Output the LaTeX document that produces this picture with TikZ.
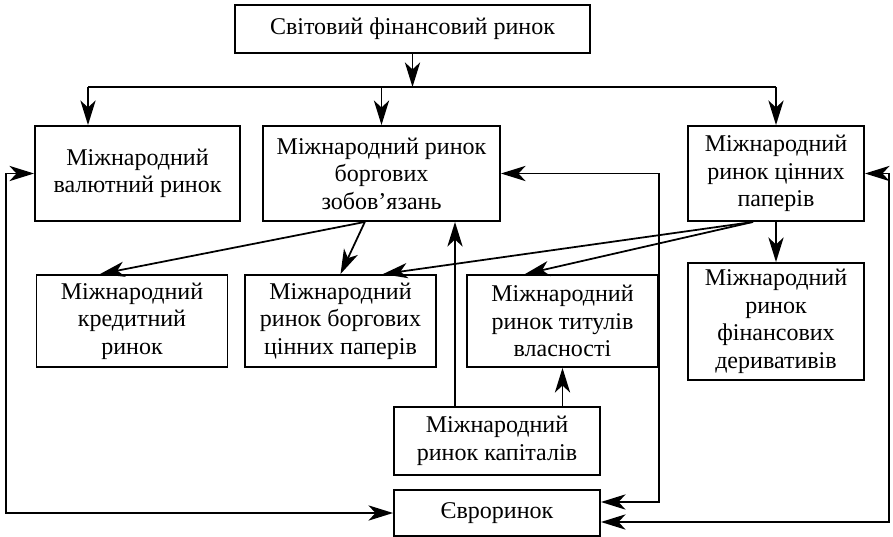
\documentclass[tikz,border=0pt]{standalone}
\usepackage{fontspec}
\setmainfont{Liberation Serif}
\usepackage{tikz}
\usetikzlibrary{positioning}
\usetikzlibrary{arrows.meta}
\usetikzlibrary{calc}

\tikzset{
  market/.style={draw, line width=1.6pt, align=center, inner sep=0pt, font=\fontsize{20.5}{23.5}\selectfont},
  link/.style={line width=1.5pt},
  tip/.style={link, -{Stealth[length=21pt,width=13pt,inset=6pt]}},
  twotip/.style={link, {Stealth[length=21pt,width=13pt,inset=6pt]}-{Stealth[length=21pt,width=13pt,inset=6pt]}}
}

\begin{document}
\begin{tikzpicture}[x=0.03cm,y=-0.03cm]
 \useasboundingbox (0,0) rectangle (893,537);

 %level 1
 \node[market, minimum width=10.65cm, minimum height=1.44cm] (world) at (412.5,29) {Світовий фінансовий ринок};

 %level 2
 \node[market, minimum width=6.15cm, minimum height=2.85cm] (fx) at (137.5,173.5) {Міжнародний\\валютний ринок};
 \node[market, minimum width=7.11cm, minimum height=2.85cm] (debt) at (381.5,173.5) {Міжнародний ринок\\боргових\\зобов’язань};
 \node[market, minimum width=5.28cm, minimum height=2.85cm] (sec) at (776,173.5) {Міжнародний\\ринок цінних\\паперів};

 %level 3
 \node[market, minimum width=5.73cm, minimum height=2.76cm] (credit) at (132,321) {Міжнародний\\кредитний\\ринок};
 \node[market, minimum width=5.73cm, minimum height=2.76cm] (bonds) at (340.5,321) {Міжнародний\\ринок боргових\\цінних паперів};
 \node[market, minimum width=5.73cm, minimum height=2.76cm] (equity) at (562.5,321) {Міжнародний\\ринок титулів\\власності};
 \node[market, minimum width=5.28cm, minimum height=3.51cm] (deriv) at (776,321.5) {Міжнародний\\ринок\\фінансових\\деривативів};

 %level 4
 \node[market, minimum width=6.18cm, minimum height=2.04cm] (capital) at (497,441) {Міжнародний\\ринок капіталів};
 \node[market, minimum width=6.18cm, minimum height=1.38cm] (euro) at (497,513) {Євроринок};

 % lines
 \coordinate (bus) at (412.5,87);
 \coordinate (busL) at (88,87);
 \coordinate (busR) at (776,87);
 \draw[tip] (world) -- (bus);
 \draw[link] (busL) -- (busR);
 \draw[tip] (busL) -- (busL |- fx.north);
 \draw[tip] (bus -| debt.north) -- (debt.north);
 \draw[tip] (busR) -- (sec.north);

 \draw[tip] ([xshift=-0.5cm]debt.south) -- ([xshift=-0.96cm]credit.north);
 \draw[tip] ([xshift=-0.5cm]debt.south) -- (bonds.north);
 \draw[tip] ([xshift=-0.69cm]sec.south) -- ([xshift=1.275cm]bonds.north);
 \draw[tip] ([xshift=-0.69cm]sec.south) -- ([xshift=-1.125cm]equity.north);
 \draw[tip] (sec) -- (deriv);

 \draw[tip] ([xshift=-1.26cm]capital.north) coordinate (up) -- (up |- debt.south);
 \draw[tip] (capital.north -| equity.south) -- (equity.south);

 % loops to the euromarket
 \draw[twotip] (fx.west) -- ++(-28,0) |- (euro.west);
 \draw[twotip] (debt.east) -- (debt.east -| equity.east) |- ([yshift=0.33cm]euro.east);
 \draw[twotip] (sec.east) -- ++(24,0) |- ([yshift=-0.27cm]euro.east);

\end{tikzpicture}
\end{document}
